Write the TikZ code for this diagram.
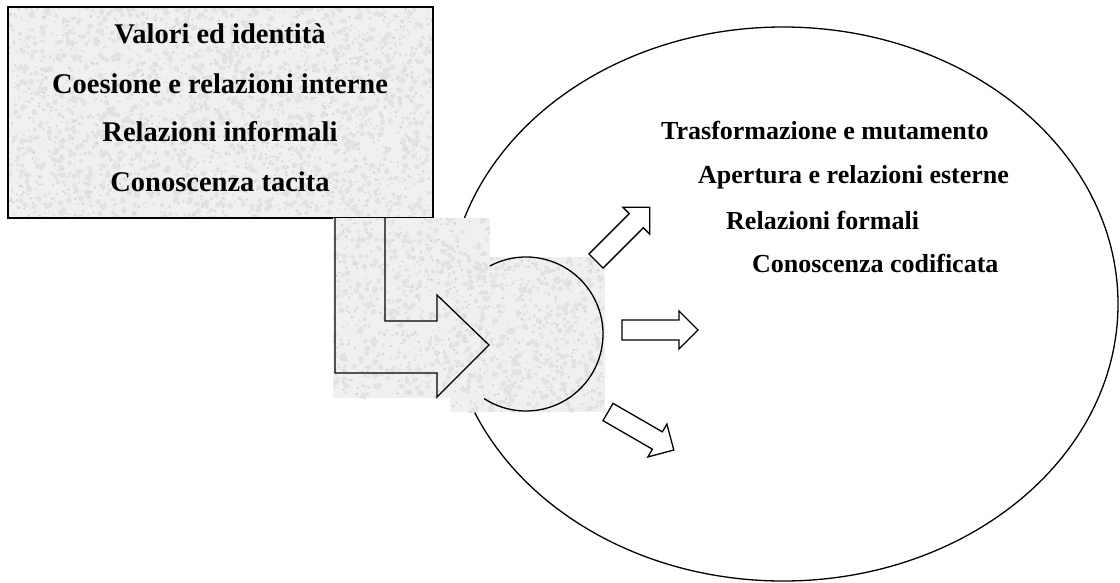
\documentclass[tikz,border=0pt]{standalone}
\usepackage{fontspec}
\setmainfont{Liberation Serif}
\definecolor{texbase}{RGB}{240,240,240}
\definecolor{texdark}{RGB}{214,214,214}
\definecolor{texmid}{RGB}{226,226,226}
\newcommand{\myspecks}[5]{%
  \foreach \i in {1,...,#5}{%
    \fill[speckb] ({#1+#3*rnd},{#2+#4*rnd}) circle ({1.2+1.8*rnd});
    \fill[speck] ({#1+#3*rnd},{#2+#4*rnd}) circle ({0.5+1.0*rnd});}}
\tikzset{
  outline/.style={draw=black, line width=1.3pt, line join=miter},
  boxline/.style={draw=black, line width=1.6pt},
  speck/.style={fill=texdark},
  speckb/.style={fill=texmid},
  lbl/.style={font=\fontsize{28.5}{30}\selectfont\bfseries, inner sep=0pt, anchor=base},
  rlbl/.style={font=\fontsize{26}{30}\selectfont\bfseries, inner sep=0pt, anchor=base west},
  fatarrow/.pic={\draw[outline, fill=white] (0,-10) -- (57,-10) -- (57,-19) -- (76,0) -- (57,19) -- (57,10) -- (0,10) -- cycle;}
}
\begin{document}
\begin{tikzpicture}[x=1pt, y=-1pt]
\pgfmathsetseed{7}
\path[use as bounding box] (0,0) rectangle (1120,582);
% big ellipse
\draw[outline] (783,304) ellipse [x radius=335, y radius=277];
% textured box
\fill[texbase] (8,7) rectangle (433,218);
\begin{scope}
  \clip (8,7) rectangle (433,218);
  \myspecks{8}{7}{425}{211}{1500}
\end{scope}
\draw[boxline] (8,7) rectangle (433,218);
% circle picture background
\fill[texbase] (450,257) rectangle (605,412);
\begin{scope}
  \clip (450,257) rectangle (605,412);
  \myspecks{450}{257}{155}{155}{380}
\end{scope}
% bent arrow picture background
\fill[texbase] (333,218) rectangle (490,398);
\begin{scope}
  \clip (333,218) rectangle (490,398);
  \myspecks{333}{218}{157}{180}{450}
\end{scope}
% bent arrow outline
\draw[outline] (385,218) -- (385,321) -- (437,321) -- (437,295) -- (489,345)
  -- (437,397) -- (437,373) -- (335,373) -- (335,218);
% circle arc
\coordinate (cc) at (526,334);
\draw[outline] ([shift={(-118:77)}]cc) arc[start angle=-118, end angle=123, radius=77];
% small arrows
\pic[rotate=45] at (596,261) {fatarrow};
\pic at (622,330) {fatarrow};
\pic[rotate=-30] at (608,412) {fatarrow};
% left texts
\node[lbl] (l1) at (220,43) {Valori ed identità};
\node[lbl] (l2) at (220,93) {Coesione e relazioni interne};
\node[lbl] (l3) at (220,141) {Relazioni informali};
\node[lbl] (l4) at (220,191) {Conoscenza tacita};
% right texts
\node[rlbl] (r1) at (661,139) {Trasformazione e mutamento};
\node[rlbl] (r2) at (698,183) {Apertura e relazioni esterne};
\node[rlbl] (r3) at (726,229) {Relazioni formali};
\node[rlbl] (r4) at (752,272) {Conoscenza codificata};
\end{tikzpicture}
\end{document}
